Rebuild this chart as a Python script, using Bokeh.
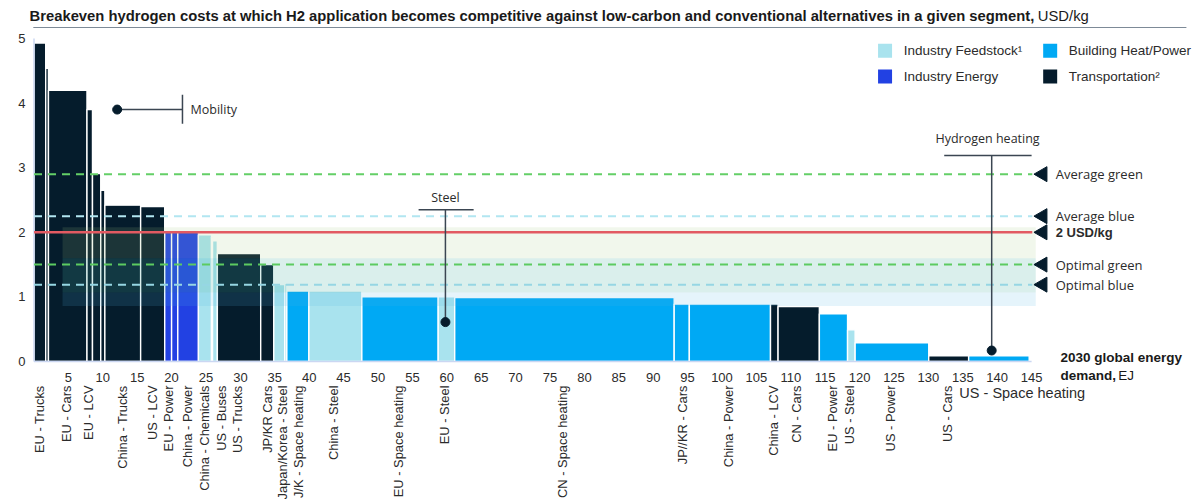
import math

from bokeh.core.properties import value
from bokeh.embed import file_html
from bokeh.models import ColumnDataSource, FixedTicker, Label, LinearAxis, Range1d
from bokeh.plotting import figure
from bokeh.resources import INLINE

# ---------------------------------------------------------------------------
# Data: 2030 hydrogen demand segments, ordered by breakeven cost
# ---------------------------------------------------------------------------
segment = [
    "Transportation", "Transportation", "Transportation", "Transportation",
    "Transportation", "Transportation", "Transportation", "Transportation",
    "Industry Energy", "Industry Energy", "Industry Energy",
    "Industry Feedstock", "Transportation", "Industry Feedstock",
    "Transportation", "Transportation",
    "Industry Feedstock", "Industry Feedstock", "Building Heat/Power",
    "Industry Feedstock", "Building Heat/Power", "Industry Feedstock",
    "Building Heat/Power", "Building Heat/Power", "Building Heat/Power",
    "Transportation", "Transportation", "Building Heat/Power",
    "Industry Feedstock", "Building Heat/Power", "Transportation",
    "Building Heat/Power",
]
demand_ej = [
    1.7, 0.4, 5.6, 0.8, 1.2, 0.6, 5.2, 3.5,
    1.0, 0.9, 3.0,
    1.9, 0.15, 0.7,
    6.3, 1.9,
    1.6, 0.3, 3.2,
    7.7, 11.1, 2.4,
    31.9, 2.2, 11.8,
    1.1, 6.0, 4.1,
    1.1, 10.7, 5.8,
    8.8,
]
breakeven_usd_kg = [
    4.93, 4.54, 4.2, 3.9, 2.91, 2.65, 2.42, 2.40,
    2.0, 2.0, 2.0,
    1.96, 1.92, 1.87,
    1.67, 1.50,
    1.19, 1.21, 1.09,
    1.09, 1.0, 1.0,
    0.99, 0.89, 0.89,
    0.89, 0.85, 0.74,
    0.49, 0.29, 0.09,
    0.09,
]

# Application labels under the axis and the demand position (EJ) they sit at
application_labels = [
    "EU - Trucks", "EU - Cars", "EU - LCV", "China - Trucks", "US - LCV",
    "EU - Power", "China - Power", "China - Chemicals", "US - Buses",
    "US - Trucks", "JP/KR Cars", "Japan/Korea - Steel", "J/K - Space heating",
    "China - Steel", "EU - Space heating", "EU - Steel", "CN - Space heating",
    "JP//KR - Cars", "China - Power", "China - LCV", "CN - Cars", "EU - Power",
    "US - Steel", "US - Power", "US - Cars",
]
application_x = [
    0.85, 4.72, 7.97, 12.82, 17.18,
    19.6, 22.27, 24.78, 27.2,
    29.63, 33.9, 36.08, 38.4,
    43.58, 52.95, 59.67, 76.8,
    94.2, 101.0, 107.5, 110.9, 116.0,
    118.6, 124.5, 132.8,
]

# Hydrogen cost references (USD/kg)
threshold_names = ["Average green", "Average blue", "2 USD/kg", "Optimal green", "Optimal blue"]
threshold_values = [2.9, 2.25, 2.0, 1.5, 1.19]

# Shaded cost ranges (USD/kg)
band_low = [1.6, 1.07, 0.86]
band_high = [2.08, 1.6, 1.07]

x_ticks = [5, 10, 15, 20, 25, 30, 35, 40, 45, 50, 55, 60, 65, 70, 75,
           80, 85, 90, 95, 100, 105, 110, 115, 120, 125, 130, 135, 140, 145]
y_ticks = [0, 1, 2, 3, 4, 5]

# ---------------------------------------------------------------------------
# Styling
# ---------------------------------------------------------------------------
SEGMENT_COLORS = {
    "Industry Feedstock": "#A9E3EE",
    "Building Heat/Power": "#00A9F4",
    "Industry Energy": "#2241E3",
    "Transportation": "#051C2C",
}
ARIAL = "Liberation Sans"
SEGOE = "Open Sans"
TEXT = "#2b2b2b"

W, H = 1193, 499
# Frame fills the canvas; axes sit at fixed data locations inside it.
X_ORIGIN_PX, Y_ORIGIN_PX = 33.5, 361.0
PX_X = 6.88   # pixels per EJ
PX_Y = 64.6   # pixels per USD/kg
x_start = -X_ORIGIN_PX / PX_X
y_start = -(H - Y_ORIGIN_PX) / PX_Y

p = figure(
    width=W, height=H,
    output_backend="svg", toolbar_location=None,
    x_range=Range1d(x_start, x_start + W / PX_X),
    y_range=Range1d(y_start, y_start + H / PX_Y),
    min_border=0,
    x_axis_type=None, y_axis_type=None,
)
p.outline_line_color = None
p.background_fill_color = "white"
p.border_fill_color = "white"


def plain_axis(ticker, standoff, size, location):
    ax = LinearAxis(ticker=ticker, fixed_location=location)
    ax.axis_line_color = None
    ax.major_tick_line_color = None
    ax.minor_tick_line_color = None
    ax.major_tick_out = 0
    ax.major_tick_in = 0
    ax.major_label_standoff = standoff
    ax.major_label_text_font = ARIAL
    ax.major_label_text_font_size = size
    ax.major_label_text_color = TEXT
    return ax


# Cost axis
yaxis = plain_axis(FixedTicker(ticks=y_ticks), 8, "13px", -0.5 / PX_X)
p.add_layout(yaxis, "left")

# Demand axis
xaxis = plain_axis(FixedTicker(ticks=x_ticks), 10, "13px", -1.0 / PX_Y)
p.add_layout(xaxis, "below")

# Application names along a second, label-only axis (read bottom to top)
app_axis = plain_axis(FixedTicker(ticks=application_x), 2, "12.9px", -22.0 / PX_Y)
app_axis.major_label_orientation = math.pi / 2
app_axis.major_label_overrides = {x: t for x, t in zip(application_x, application_labels)}
p.add_layout(app_axis, "below")

# Bars: width = demand, height = breakeven cost
lefts, rights = [], []
acc = 0.0
for w in demand_ej:
    lefts.append(acc)
    acc += w
    rights.append(acc)
bars = ColumnDataSource(dict(
    left=lefts, right=rights, top=breakeven_usd_kg,
    color=[SEGMENT_COLORS[s] for s in segment], segment=segment,
))
p.quad(left="left", right="right", bottom=0, top="top", source=bars,
       fill_color="color", line_color="white", line_width=1.4)

# Translucent cost ranges laid over the bars
band_x = (4.15, 145.6)
band_colors = ["#A2CA80", "#46AFA0", "#52B6E4"]
band_alpha = [0.15, 0.2, 0.15]
p.quad(left=band_x[0], right=band_x[1], bottom=band_low, top=band_high,
       fill_color=band_colors, fill_alpha=band_alpha, line_color=None)

# Axis base lines
p.segment(x0=[0, 0], y0=[0, 0], x1=[0, 145.0], y1=[5.0, 0],
          line_color="#cbd7f2", line_width=1.5)

# Reference cost lines
line_end = 145.1
line_styles = {
    "Average green": dict(line_color="#64CF67", line_dash="8 6", line_width=2),
    "Average blue": dict(line_color="#B2E6F1", line_dash="8 6", line_width=2),
    "2 USD/kg": dict(line_color="#E25A62", line_width=2.6),
    "Optimal green": dict(line_color="#5CCB61", line_dash="8 6", line_width=2),
    "Optimal blue": dict(line_color="#96D6E3", line_dash="8 6", line_width=2),
}
for name, v in zip(threshold_names, threshold_values):
    p.segment(x0=0, y0=v, x1=line_end, y1=v, **line_styles[name])

# Left-pointing markers and names at the right end of the lines
p.scatter(x=[146.6] * len(threshold_values), y=threshold_values, marker="triangle",
          angle=math.pi / 2, size=15, fill_color="#051C2C", line_color="#051C2C")
for name, v in zip(threshold_names, threshold_values):
    bold = name == "2 USD/kg"
    p.text(x=[148.5], y=[v], text=[name],
           text_font=value(ARIAL if bold else SEGOE),
           text_font_style="bold" if bold else "normal",
           text_font_size="13px", text_color=TEXT,
           text_align="left", text_baseline="middle")

# Call-outs
ANN = "#3b4652"
# Mobility
p.segment(x0=12.09, y0=3.9, x1=21.58, y1=3.9, line_color=ANN, line_width=1.5)
p.segment(x0=21.58, y0=3.68, x1=21.58, y1=4.13, line_color=ANN, line_width=1.5)
p.scatter(x=[12.09], y=[3.9], size=9, fill_color="#051C2C", line_color="#051C2C")
p.text(x=[22.75], y=[3.9], text=["Mobility"], text_font=value(SEGOE),
       text_font_size="12.5px", text_color=TEXT, text_baseline="middle")
# Steel
p.segment(x0=59.8, y0=0.61, x1=59.8, y1=2.35, line_color=ANN, line_width=1.5)
p.segment(x0=55.9, y0=2.35, x1=63.9, y1=2.35, line_color=ANN, line_width=1.5)
p.scatter(x=[59.8], y=[0.61], size=9, fill_color="#051C2C", line_color="#051C2C")
p.text(x=[59.8], y=[2.54], text=["Steel"], text_font=value(SEGOE),
       text_font_size="12.5px", text_color=TEXT, text_align="center",
       text_baseline="middle")
# Hydrogen heating
p.segment(x0=139.2, y0=0.17, x1=139.2, y1=3.19, line_color=ANN, line_width=1.5)
p.segment(x0=132.3, y0=3.19, x1=145.0, y1=3.19, line_color=ANN, line_width=1.5)
p.scatter(x=[139.2], y=[0.17], size=9, fill_color="#051C2C", line_color="#051C2C")
p.text(x=[138.6], y=[3.45], text=["Hydrogen heating"], text_font=value(SEGOE),
       text_font_size="12.5px", text_color=TEXT, text_align="center",
       text_baseline="middle")

# Legend
legend_labels = ["Industry Feedstock\u00b9", "Industry Energy",
                 "Building Heat/Power", "Transportation\u00b2"]
legend_segments = ["Industry Feedstock", "Industry Energy",
                   "Building Heat/Power", "Transportation"]
legend_x = [123.7, 123.7, 147.7, 147.7]
legend_y = [4.81, 4.41, 4.81, 4.41]
p.rect(x=legend_x, y=legend_y, width=14, height=14, width_units="screen",
       height_units="screen", fill_color=[SEGMENT_COLORS[s] for s in legend_segments],
       line_color=None)
p.text(x=[x + 2.7 for x in legend_x], y=legend_y, text=legend_labels,
       text_font=value(ARIAL), text_font_size="13.5px", text_color=TEXT,
       text_baseline="middle")

# Title with unit, and underline rule
p.add_layout(Label(x=-0.654, y=5.356, text="Breakeven hydrogen costs at which H2 application "
                   "becomes competitive against low-carbon and conventional alternatives "
                   "in a given segment,",
                   text_font=ARIAL, text_font_style="bold", text_font_size="14.8px",
                   text_color="#1a1a1a", text_baseline="middle"))
p.add_layout(Label(x=145.9, y=5.356, text="USD/kg", text_font=ARIAL,
                   text_font_size="14.8px", text_color="#1a1a1a", text_baseline="middle"))
p.segment(x0=-0.1, y0=5.17, x1=167.5, y1=5.17, line_color="#7d8a97", line_width=1.2)

# Axis title (demand)
p.add_layout(Label(x=149.2, y=0.062, text="2030 global energy", text_font=ARIAL,
                   text_font_style="bold", text_font_size="13.5px", text_color="#1a1a1a",
                   text_baseline="middle"))
p.add_layout(Label(x=149.2, y=-0.217, text="demand,", text_font=ARIAL,
                   text_font_style="bold", text_font_size="13.5px", text_color="#1a1a1a",
                   text_baseline="middle"))
p.add_layout(Label(x=157.6, y=-0.217, text="EJ", text_font=ARIAL,
                   text_font_size="13.5px", text_color="#1a1a1a", text_baseline="middle"))

# Horizontal name for the last bar
p.add_layout(Label(x=134.5, y=-0.495, text="US - Space heating", text_font=ARIAL,
                   text_font_size="14.5px", text_color=TEXT, text_baseline="middle"))

open("out.html", "w").write(file_html(p, INLINE, title="Hydrogen breakeven costs"))
